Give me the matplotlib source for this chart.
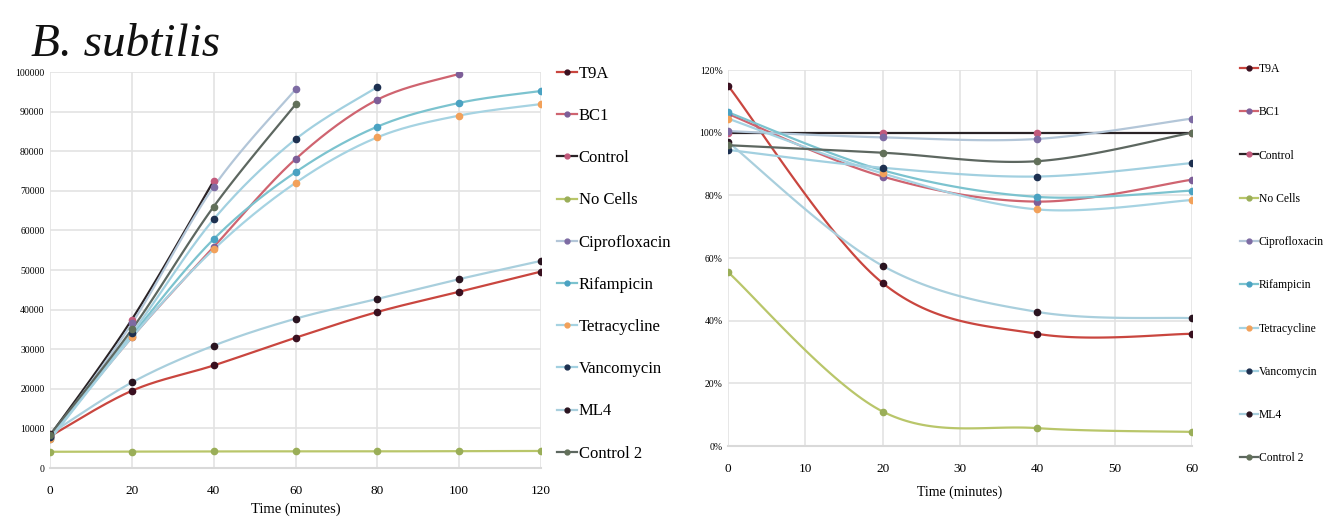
import numpy as np
import matplotlib
matplotlib.use("Agg")
import matplotlib.pyplot as plt
from matplotlib.lines import Line2D

# ---- data -------------------------------------------------------------
series_names = ["T9A", "BC1", "Control", "No Cells", "Ciprofloxacin",
                "Rifampicin", "Tetracycline", "Vancomycin", "ML4", "Control 2"]

# growth (left panel), time in minutes
t_abs = [0, 20, 40, 60, 80, 100, 120]
abs_t9a = [8000, 19500, 25900, 32900, 39400, 44500, 49600]
abs_bc1 = [7800, 33000, 55800, 78000, 93000, 99500]
abs_control = [8200, 37500, 72500]
abs_nocells = [4100, 4150, 4200, 4200, 4200, 4250, 4300]
abs_cipro = [7600, 36500, 71000, 95600]
abs_rif = [7400, 33500, 57800, 74700, 86200, 92200, 95200]
abs_tet = [7200, 33000, 55200, 72000, 83500, 89000, 91900]
abs_vanco = [7900, 34000, 62800, 83000, 96200]
abs_ml4 = [8600, 21600, 30900, 37700, 42700, 47700, 52300]
abs_control2 = [8400, 35000, 66000, 91800]

# relative values (right panel), percent
t_rel = [0, 20, 40, 60]
rel_t9a = [115, 52, 35.8, 35.8]
rel_bc1 = [106, 86, 78, 85]
rel_control = [100, 100, 100, 100]
rel_nocells = [55.5, 11, 5.7, 4.5]
rel_cipro = [100.5, 98.5, 98, 104.5]
rel_rif = [106.5, 88, 79.5, 81.5]
rel_tet = [104.5, 87, 75.5, 78.5]
rel_vanco = [94.5, 88.8, 86, 90.3]
rel_ml4 = [97, 57.5, 42.8, 40.8]
rel_control2 = [96, 93.6, 90.9, 100]

abs_values = [abs_t9a, abs_bc1, abs_control, abs_nocells, abs_cipro,
              abs_rif, abs_tet, abs_vanco, abs_ml4, abs_control2]
rel_values = [rel_t9a, rel_bc1, rel_control, rel_nocells, rel_cipro,
              rel_rif, rel_tet, rel_vanco, rel_ml4, rel_control2]

line_colors = ["#c9463f", "#cf6470", "#2a2326", "#b9c66a", "#b3c6d8",
               "#7cc3cf", "#a6d3e2", "#a2d0e0", "#a9cfdd", "#5d6760"]
marker_colors = ["#3a1020", "#7d5e98", "#c25a7c", "#9aae58", "#7d6ba3",
                 "#4aa2c2", "#f2a15a", "#1d3050", "#2a1420", "#62705a"]

# ---- helpers ----------------------------------------------------------
SERIF = ["Liberation Serif", "DejaVu Serif"]


def smooth_curve(x, y, n=40):
    """Bezier-smoothed polyline through the given points."""
    x = np.asarray(x, float)
    y = np.asarray(y, float)
    if len(x) < 3:
        return x, y
    px = np.concatenate([[x[0]], x, [x[-1]]])
    py = np.concatenate([[y[0]], y, [y[-1]]])
    xs, ys = [], []
    s = np.linspace(0, 1, n)
    for i in range(1, len(px) - 2):
        p0 = np.array([px[i], py[i]])
        p3 = np.array([px[i + 1], py[i + 1]])
        c1 = p0 + (p3 - np.array([px[i - 1], py[i - 1]])) / 6.0
        c2 = p3 - (np.array([px[i + 2], py[i + 2]]) - p0) / 6.0
        b = ((1 - s) ** 3)[:, None] * p0 + (3 * (1 - s) ** 2 * s)[:, None] * c1 \
            + (3 * (1 - s) * s ** 2)[:, None] * c2 + (s ** 3)[:, None] * p3
        xs.append(b[:, 0])
        ys.append(b[:, 1])
    return np.concatenate(xs), np.concatenate(ys)


def style_axes(ax):
    ax.set_facecolor("white")
    for side in ["top", "right", "left"]:
        ax.spines[side].set_visible(False)
    ax.spines["bottom"].set_color("#d9d9d9")
    ax.spines["bottom"].set_linewidth(1.5)
    ax.grid(True, color="#e3e3e3", linewidth=1.2)
    ax.set_axisbelow(True)
    ax.tick_params(length=0, pad=4)


def draw_series(ax, t, values):
    for vals, lc, mc in zip(values, line_colors, marker_colors):
        tt = t[:len(vals)]
        sx, sy = smooth_curve(tt, vals)
        ax.plot(sx, sy, color=lc, linewidth=1.6, solid_capstyle="round", zorder=3)
        ax.plot(tt, vals, "o", color=mc, markersize=4.5, zorder=4)


def add_legend(fig, x, y, size, spacing, handlelength):
    handles = [Line2D([0], [0], color=lc, linewidth=1.6, marker="o",
                      markersize=3.5, markerfacecolor=mc, markeredgecolor=mc)
               for lc, mc in zip(line_colors, marker_colors)]
    fig.legend(handles, series_names, loc="upper left", bbox_to_anchor=(x, y),
               frameon=False, prop={"family": SERIF, "size": size},
               handlelength=handlelength, handletextpad=0.1,
               labelspacing=spacing, borderaxespad=0, borderpad=0)


# ---- figure -----------------------------------------------------------
fig = plt.figure(figsize=(13.25, 5.17), dpi=100)
fig.patch.set_facecolor("white")

# left panel
ax1 = fig.add_axes([50 / 1325, 1 - 468 / 517, 491 / 1325, 396 / 517])
style_axes(ax1)
draw_series(ax1, t_abs, abs_values)
ax1.set_xlim(0, 120)
ax1.set_ylim(0, 100000)
ax1.set_xticks(t_abs)
ax1.set_yticks(np.arange(0, 100001, 10000))
ax1.set_yticklabels([f"{v:d}" for v in range(0, 100001, 10000)],
                    family=SERIF, fontsize=7)
ax1.set_xticklabels([str(v) for v in t_abs], family=SERIF, fontsize=9.5)
ax1.tick_params(axis="x", pad=12)
ax1.set_xlabel("Time (minutes)", family=SERIF, fontsize=10.5, labelpad=4)

# right panel
ax2 = fig.add_axes([728 / 1325, 1 - 446 / 517, 464 / 1325, 376 / 517])
style_axes(ax2)
draw_series(ax2, t_rel, rel_values)
ax2.set_xlim(0, 60)
ax2.set_ylim(0, 120)
ax2.set_xticks(np.arange(0, 61, 10))
ax2.set_yticks(np.arange(0, 121, 20))
ax2.set_yticklabels([f"{v}%" for v in range(0, 121, 20)], family=SERIF, fontsize=7)
ax2.set_xticklabels([str(v) for v in range(0, 61, 10)], family=SERIF, fontsize=9.5)
ax2.tick_params(axis="x", pad=12)
ax2.set_xlabel("Time (minutes)", family=SERIF, fontsize=10, labelpad=8)

# legends
add_legend(fig, 557 / 1325, 1 - 66 / 517, 12, 1.57, 1.2)
add_legend(fig, 1240 / 1325, 1 - 63 / 517, 8.4, 2.68, 1.5)

# title
fig.text(31 / 1325, 1 - 56 / 517, "B. subtilis", family=SERIF, style="italic",
         fontsize=34, ha="left", va="baseline", color="#111111")

fig.savefig("out.png", dpi=100, facecolor="white")
